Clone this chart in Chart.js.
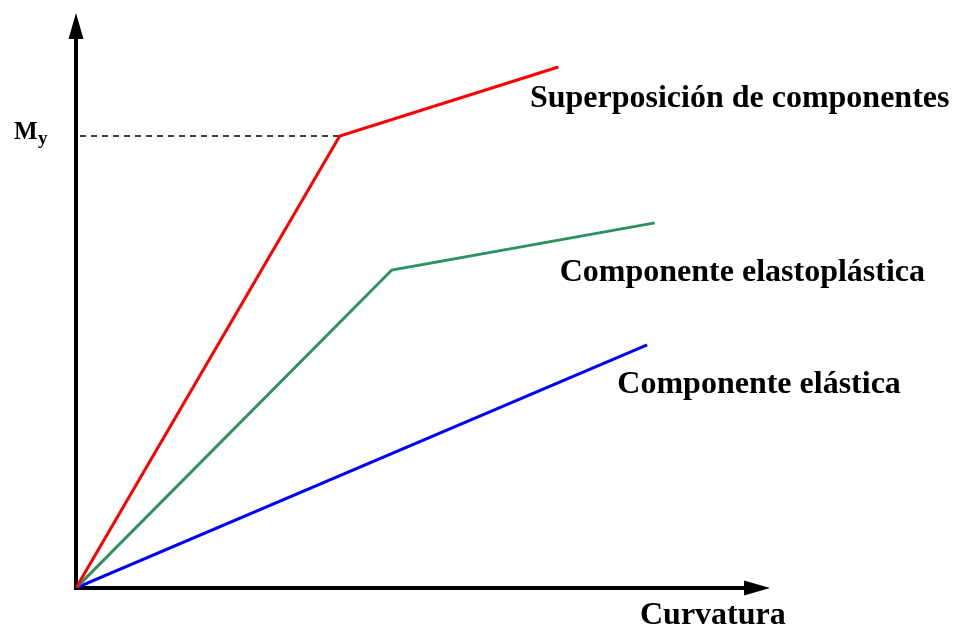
<!DOCTYPE html>
<html>
<head>
<meta charset="utf-8">
<script src="https://cdn.jsdelivr.net/npm/chart.js@4/dist/chart.umd.min.js"></script>
<style>
  html, body { margin: 0; padding: 0; background: #fff; }
  #wrap { width: 956px; height: 629px; }
</style>
</head>
<body>
<div id="wrap"><canvas id="chart" width="956" height="629"></canvas></div>
<script>
// moment-curvature diagram, arbitrary units (0..100 on both axes)
const elasticX = [0, 82.3];
const elasticY = [0, 42.3];
const elastoplasticX = [0, 45.5, 83.4];
const elastoplasticY = [0, 55.3, 63.5];
const superpositionX = [0, 38.0, 69.5];
const superpositionY = [0, 78.6, 90.6];
const yieldMoment = 78.6;

const seriesLabels = ['Superposición de componentes', 'Componente elastoplástica', 'Componente elástica'];
const axisTitleX = 'Curvatura';

const toPoints = (xs, ys) => xs.map((x, i) => ({ x: x, y: ys[i] }));

const FONT = '"Liberation Serif", "Times New Roman", serif';

// where each curve's name sits, in data units (left edge / baseline)
const labelAnchors = [
    { x: 65.4, y: 83.7 },
    { x: 69.7, y: 53.4 },
    { x: 78.0, y: 33.9 },
];

function arrowHead(ctx, tipX, tipY, dir) {
    const len = 26, half = 7.5;
    ctx.beginPath();
    if (dir === 'up') {
        ctx.moveTo(tipX, tipY);
        ctx.lineTo(tipX - half, tipY + len);
        ctx.lineTo(tipX + half, tipY + len);
    } else {
        ctx.moveTo(tipX, tipY);
        ctx.lineTo(tipX - len, tipY - half);
        ctx.lineTo(tipX - len, tipY + half);
    }
    ctx.closePath();
    ctx.fill();
}

const diagramPlugin = {
    id: 'diagram',
    beforeDatasetsDraw(chart) {
        const { ctx, chartArea, scales } = chart;
        const x0 = scales.x.getPixelForValue(0);
        const y0 = scales.y.getPixelForValue(0);
        ctx.save();
        ctx.strokeStyle = '#000';
        ctx.fillStyle = '#000';

        // dashed guide at the yield moment
        const yy = scales.y.getPixelForValue(yieldMoment);
        const xk = scales.x.getPixelForValue(superpositionX[1]);
        ctx.lineWidth = 1.5;
        ctx.setLineDash([6, 5]);
        ctx.beginPath();
        ctx.moveTo(x0 + 4, yy);
        ctx.lineTo(xk, yy);
        ctx.stroke();
        ctx.setLineDash([]);

        // axes with arrow heads
        ctx.lineWidth = 4;
        ctx.lineCap = 'square';
        ctx.beginPath();
        ctx.moveTo(x0, chartArea.top + 20);
        ctx.lineTo(x0, y0);
        ctx.lineTo(chartArea.right - 20, y0);
        ctx.stroke();
        arrowHead(ctx, x0, chartArea.top, 'up');
        arrowHead(ctx, chartArea.right, y0, 'right');
        ctx.restore();
    },
    afterDatasetsDraw(chart) {
        const { ctx, chartArea, scales } = chart;
        const x0 = scales.x.getPixelForValue(0);
        const y0 = scales.y.getPixelForValue(0);
        ctx.save();
        ctx.fillStyle = '#000';
        ctx.textBaseline = 'alphabetic';
        ctx.textAlign = 'left';
        ctx.font = 'bold 32px ' + FONT;
        seriesLabels.forEach((t, i) => {
            const a = labelAnchors[i];
            ctx.fillText(t, scales.x.getPixelForValue(a.x), scales.y.getPixelForValue(a.y));
        });
        ctx.fillText(axisTitleX, chartArea.right - 130, y0 + 36);

        // M_y on the moment axis
        const yy = scales.y.getPixelForValue(yieldMoment);
        ctx.font = 'bold 25px ' + FONT;
        ctx.fillText('M', x0 - 62, yy + 3);
        ctx.font = 'bold 19px ' + FONT;
        ctx.fillText('y', x0 - 38, yy + 8);
        ctx.restore();
    }
};

new Chart(document.getElementById('chart'), {
    type: 'scatter',
    data: {
        datasets: [
            { data: toPoints(superpositionX, superpositionY), borderColor: '#ff0000' },
            { data: toPoints(elastoplasticX, elastoplasticY), borderColor: '#2e9160' },
            { data: toPoints(elasticX, elasticY), borderColor: '#0000ff' },
        ].map(d => Object.assign(d, {
            showLine: true,
            borderWidth: 3,
            pointRadius: 0,
            tension: 0,
            fill: false,
        })),
    },
    options: {
        responsive: false,
        animation: false,
        layout: { padding: { left: 76, right: 186, top: 13, bottom: 41 } },
        plugins: { legend: { display: false }, tooltip: { enabled: false } },
        scales: {
            x: { type: 'linear', min: 0, max: 100, display: false },
            y: { type: 'linear', min: 0, max: 100, display: false },
        },
    },
    plugins: [diagramPlugin],
});
</script>
</body>
</html>
